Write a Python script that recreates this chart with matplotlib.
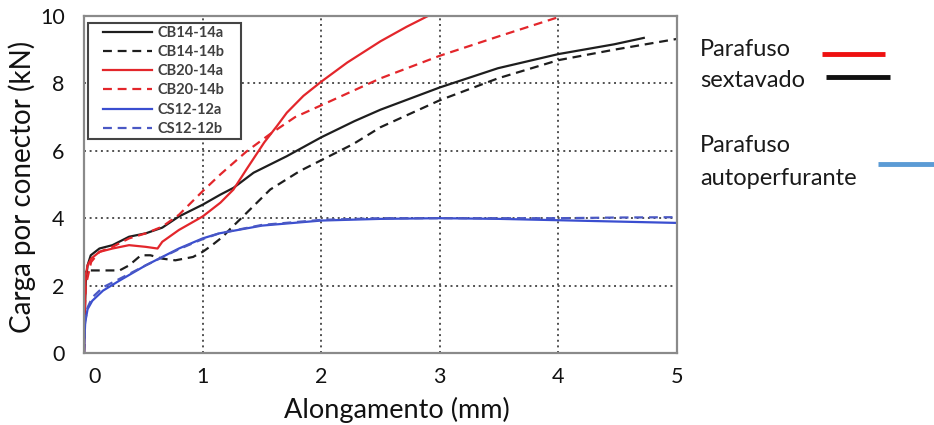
import matplotlib
matplotlib.use("Agg")
import matplotlib.pyplot as plt
from matplotlib.lines import Line2D
from matplotlib.legend_handler import HandlerLine2D
import matplotlib.transforms as mtransforms

plt.rcParams['font.family'] = ['Lato', 'DejaVu Sans']

# ---------------- data ----------------
x_ticks = [0, 1, 2, 3, 4, 5]
y_ticks = [0, 2, 4, 6, 8, 10]

cb14a_x = [0, 0.005, 0.015, 0.03, 0.057, 0.13, 0.24, 0.38, 0.52, 0.66, 0.80, 1.00, 1.15, 1.26,
           1.43, 1.71, 2.0, 2.28, 2.5, 3.0, 3.49, 4.0, 4.47, 4.72]
cb14a_y = [0, 1.0, 2.1, 2.6, 2.9, 3.1, 3.2, 3.45, 3.55, 3.72, 4.05, 4.4, 4.7, 4.9,
           5.35, 5.84, 6.4, 6.88, 7.22, 7.88, 8.45, 8.87, 9.16, 9.35]

cb14b_x = [0, 0.005, 0.012, 0.15, 0.30, 0.38, 0.48, 0.56, 0.66, 0.77, 0.92, 0.97, 1.0, 1.08,
           1.17, 1.23, 1.32, 1.57, 1.82, 2.0, 2.27, 2.5, 3.0, 3.49, 4.0, 4.47, 5.0]
cb14b_y = [0, 1.3, 2.45, 2.45, 2.45, 2.6, 2.9, 2.9, 2.8, 2.75, 2.85, 2.95, 3.0, 3.2,
           3.45, 3.67, 3.98, 4.85, 5.4, 5.72, 6.2, 6.7, 7.5, 8.15, 8.69, 9.0, 9.32]

cb20a_x = [0, 0.005, 0.014, 0.03, 0.06, 0.13, 0.24, 0.38, 0.52, 0.62, 0.66, 0.8, 1.0, 1.15,
           1.26, 1.37, 1.52, 1.63, 1.71, 1.85, 2.0, 2.22, 2.5, 2.72, 2.9]
cb20a_y = [0, 1.1, 2.3, 2.6, 2.8, 3.0, 3.1, 3.2, 3.15, 3.1, 3.3, 3.65, 4.05, 4.46,
           4.85, 5.45, 6.25, 6.75, 7.13, 7.63, 8.05, 8.62, 9.25, 9.68, 10.0]

cb20b_x = [0, 0.005, 0.015, 0.06, 0.13, 0.24, 0.38, 0.52, 0.66, 0.72, 0.8, 1.0, 1.15, 1.37,
           1.57, 1.78, 2.0, 2.5, 3.0, 3.5, 4.03]
cb20b_y = [0, 1.0, 2.0, 2.7, 3.0, 3.15, 3.4, 3.55, 3.75, 3.9, 4.1, 4.8, 5.3, 5.98,
           6.5, 7.0, 7.35, 8.15, 8.82, 9.4, 10.0]

cs12a_x = [0, 0.005, 0.01, 0.03, 0.07, 0.16, 0.3, 0.52, 0.8, 1.0, 1.14, 1.5, 2.0, 2.5,
           3.0, 3.5, 4.0, 4.5, 5.0]
cs12a_y = [0, 0.5, 0.9, 1.3, 1.55, 1.85, 2.15, 2.6, 3.1, 3.4, 3.55, 3.78, 3.93, 3.98,
           4.0, 3.98, 3.94, 3.9, 3.86]

cs12b_x = [0, 0.005, 0.01, 0.03, 0.07, 0.16, 0.3, 0.52, 0.8, 1.0, 1.14, 1.5, 2.0, 2.5,
           3.0, 3.5, 4.0, 4.5, 5.0]
cs12b_y = [0, 0.55, 0.95, 1.35, 1.65, 1.95, 2.2, 2.6, 3.08, 3.38, 3.55, 3.8, 3.95, 4.0,
           4.0, 4.0, 4.0, 4.02, 4.03]

series_names = ["CB14-14a", "CB14-14b", "CB20-14a", "CB20-14b", "CS12-12a", "CS12-12b"]
series_x = [cb14a_x, cb14b_x, cb20a_x, cb20b_x, cs12a_x, cs12b_x]
series_y = [cb14a_y, cb14b_y, cb20a_y, cb20b_y, cs12a_y, cs12b_y]
series_colors = ["#1e1e1e", "#1e1e1e", "#e3262b", "#e3262b", "#3a4ed0", "#4a58c4"]
dash = (0, (4, 2.6))
series_styles = ["-", dash, "-", dash, "-", dash]

# ---------------- figure ----------------
W, H = 934, 425
fig = plt.figure(figsize=(W / 100, H / 100), dpi=100)
L, R, B, T = 84, 677, 353, 16
ax = fig.add_axes([L / W, 1 - B / H, (R - L) / W, (B - T) / H])

for xs, ys, name, c, ls in zip(series_x, series_y, series_names, series_colors, series_styles):
    ax.plot(xs, ys, color=c, linestyle=ls, linewidth=1.6, label=name, clip_on=True)

ax.set_xlim(0, 5)
ax.set_ylim(0, 10)
ax.set_xticks(x_ticks)
ax.set_yticks(y_ticks)
ax.grid(True, color="#505050", linestyle=(0, (1, 1.9)), linewidth=1.4)
ax.tick_params(axis="both", length=0, labelsize=15.5, colors="#111111")
ax.tick_params(axis="x", pad=10)
ax.tick_params(axis="y", pad=14)
for s in ax.spines.values():
    s.set_color("#8a8a8a")
    s.set_linewidth(1.6)

ax.set_xlabel("Alongamento (mm)", fontsize=19.5, color="#111111")
ax.set_ylabel("Carga por conector (kN)", fontsize=20, color="#111111")
ax.xaxis.set_label_coords((397 - L) / (R - L), (B - 397) / (B - T))
ax.yaxis.set_label_coords((36 - L) / (R - L), 0.494)

# shift the "0" tick label slightly to the right like the reference
t0 = ax.xaxis.get_major_ticks()[0].label1
t0.set_transform(t0.get_transform() + mtransforms.ScaledTranslation(0.11, 0, fig.dpi_scale_trans))

# legend
fs = 10.5
leg = ax.legend(
    loc="upper left",
    bbox_to_anchor=((88 - L) / (R - L), (B - 140) / (B - T), (241 - 88) / (R - L), (140 - 22.7) / (B - T)),
    mode="expand", borderaxespad=0, borderpad=0.2,
    frameon=True, fancybox=False, framealpha=1, edgecolor="#444444",
    prop={"weight": "bold", "size": fs}, labelcolor="#404040",
    handlelength=5.0, handletextpad=-0.4, labelspacing=0.36, numpoints=2,
    handler_map={Line2D: HandlerLine2D(marker_pad=0.82, numpoints=2)},
)
leg.get_frame().set_linewidth(1.5)

# right-side annotations
def fx(px):
    return px / W

def fy(py):
    return 1 - py / H

txt_kw = dict(fontsize=17, color="#1a1a1a", ha="left", va="baseline")
fig.text(fx(700), fy(56), "Parafuso", **txt_kw)
fig.text(fx(700), fy(86.7), "sextavado", **txt_kw)
fig.text(fx(700), fy(151.7), "Parafuso", **txt_kw)
fig.text(fx(700), fy(185), "autoperfurante", **txt_kw)
fig.add_artist(Line2D([fx(822), fx(885)], [fy(54.3), fy(54.3)], color="#ee1111", lw=3.5,
                      transform=fig.transFigure, solid_capstyle="butt"))
fig.add_artist(Line2D([fx(826), fx(890)], [fy(77.3), fy(77.3)], color="#111111", lw=3.5,
                      transform=fig.transFigure, solid_capstyle="butt"))
fig.add_artist(Line2D([fx(878), fx(934)], [fy(164), fy(164)], color="#5b9bd5", lw=3.5,
                      transform=fig.transFigure, solid_capstyle="butt"))

fig.savefig("out.png", dpi=100, facecolor="white")
